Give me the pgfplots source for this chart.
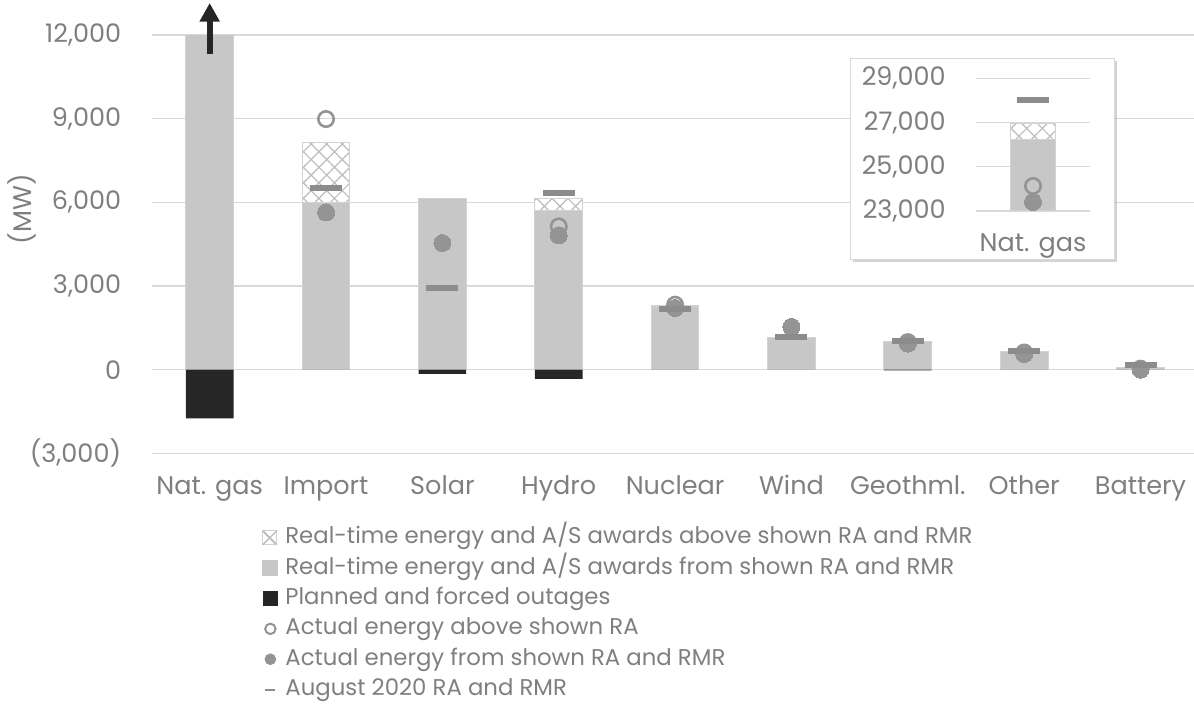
\documentclass[border=0pt]{standalone}
\usepackage{fontspec}
\setmainfont{Poppins}
\usepackage{pgfplots}
\usepackage{pgfplotstable}
\pgfplotsset{compat=1.18}
\usetikzlibrary{patterns.meta,arrows.meta,shadows}
\definecolor{txt}{HTML}{7F7F7F}
\definecolor{gridc}{HTML}{D9D9D9}
\definecolor{barc}{HTML}{C7C7C7}
\definecolor{bard}{HTML}{D2D2D2}
\definecolor{outc}{HTML}{262626}
\definecolor{mk}{HTML}{949494}
\definecolor{dashc}{HTML}{8C8C8C}
\definecolor{hatchc}{HTML}{BDBDBD}

\pgfplotstableread{
x solid total outage hollow filled ra
0 26244 26970 -1750 24130 23410 28020
1 5980 8161 0 8986 5638 6498
2 6154 6154 -150 nan 4541 2939
3 5710 6154 -330 5136 4814 6319
4 2260 2290 0 2330 2211 2186
5 1136 1136 0 nan 1530 1158
6 993 993 -30 985 932 1014
7 634 634 0 615 563 656
8 82 82 0 35 0 154
}\data

\newcommand{\fs}{\fontsize{12.8}{15}\selectfont}
\newcommand{\fl}{\fontsize{11.45}{14}\selectfont}
\pgfplotsset{
  common/.style={
    scale only axis,
    axis line style={draw=none},
    major tick length=0pt,
    tick style={draw=none},
    scaled y ticks=false,
    ymajorgrids,
    grid style={gridc, line width=0.6bp},
    /pgf/number format/assume math mode=true,
    tick label style={font=\fs, text=txt},
    yticklabel style={anchor=east, inner sep=0pt, xshift=-15bp},
    xticklabel style={anchor=base, inner sep=0pt, yshift=-20.5bp},
  },
  hatchbar/.style={ybar, bar width=0.41, bar shift=0pt, draw=bard, line width=0.5bp,
    preaction={fill=white},
    pattern={Lines[angle=45,distance=5.5bp,line width=0.6bp]}, pattern color=hatchc,
    postaction={pattern={Lines[angle=-45,distance=5.5bp,line width=0.6bp]}, pattern color=hatchc}},
  solidbar/.style={ybar, bar width=0.41, bar shift=0pt, fill=barc, draw=bard, line width=0.5bp},
  outbar/.style={ybar, bar width=0.41, bar shift=0pt, fill=outc, draw=none},
  hollowmk/.style={only marks, color=mk, mark=o, mark size=3.85bp, mark options={draw=mk, line width=1.3bp, fill=none}},
  filledmk/.style={only marks, color=mk, mark=*, mark size=4.25bp, mark options={draw=mk, fill=mk, line width=0pt}},
  dashmk/.style={only marks, color=dashc, mark=-, mark size=8bp, mark options={draw=dashc, line width=3bp}},
}

\begin{document}
\begin{tikzpicture}
\useasboundingbox (0,0) rectangle (597bp,-352bp);
\begin{axis}[common,
  at={(75.75bp,-17.5bp)}, anchor=north west,
  width=523.6bp, height=209.15bp,
  xmin=-0.5, xmax=8.5, ymin=-3000, ymax=12000,
  clip mode=individual,
  ytick={-3000,0,3000,6000,9000,12000},
  yticklabels={{(3,000)},0,{3,000},{6,000},{9,000},{12,000}},
  xtick={0,...,8},
  xticklabels={Nat. gas,Import,Solar,Hydro,Nuclear,Wind,Geothml.,Other,Battery},
  ylabel={(MW)},
  every axis y label/.style={at={(axis description cs:-0.1241,0.584)}, rotate=90, anchor=center, font=\fs, text=txt},
  legend style={at={(axis description cs:0.1055,-0.172)}, anchor=north west, draw=none, fill=none,
    inner sep=0pt, row sep=3.2bp, column sep=3.5bp, font=\fl, text=txt,
    nodes={inner ysep=0pt, inner xsep=0pt, text height=9bp, text depth=3bp}},
  legend cell align=left,
]
\addplot[hatchbar, legend image code/.code={
   \draw[bard, line width=0.4bp, fill=white] (0bp,-3.5bp) rectangle (7bp,3.5bp);
   \draw[hatchc, line width=0.4bp] (0bp,-3.5bp) -- (7bp,3.5bp) (0bp,3.5bp) -- (7bp,-3.5bp);}]
  table[x=x, y=total] {\data};
\addlegendentry{Real-time energy and A/S awards above shown RA and RMR}
\addplot[solidbar, legend image code/.code={\fill[barc] (0bp,-3.75bp) rectangle (7.5bp,3.75bp);}]
  table[x=x, y=solid] {\data};
\addlegendentry{Real-time energy and A/S awards from shown RA and RMR}
\addplot[outbar, legend image code/.code={\fill[outc] (0bp,-3.75bp) rectangle (7.5bp,3.75bp);}]
  table[x=x, y=outage] {\data};
\addlegendentry{Planned and forced outages}
\addplot[hollowmk, legend image code/.code={\draw[mk, line width=1bp] (3.75bp,0) circle (2.6bp);}]
  table[x=x, y=hollow] {\data};
\addlegendentry{Actual energy above shown RA}
\addplot[filledmk, legend image code/.code={\fill[mk] (3.75bp,0) circle (2.7bp);}]
  table[x=x, y=filled] {\data};
\addlegendentry{Actual energy from shown RA and RMR}
\addplot[dashmk, legend image code/.code={\draw[dashc, line width=1bp] (1bp,0) -- (6bp,0);}]
  table[x=x, y=ra] {\data};
\addlegendentry{August 2020 RA and RMR}
\draw[outc, line width=3bp, -{Triangle[width=9.5bp,length=9.3bp]}] (axis cs:0,11326) -- (axis cs:0,13150);
\end{axis}

\draw[gridc, line width=0.5bp, fill=white, drop shadow={shadow xshift=1.5bp, shadow yshift=-1.5bp, opacity=0.35}]
  (425bp,-29.15bp) rectangle (557bp,-129.65bp);

\begin{axis}[common,
  at={(488bp,-39.15bp)}, anchor=north west,
  width=57bp, height=66.35bp,
  xmin=-0.5, xmax=0.5, ymin=23000, ymax=29000,
  ytick={23000,25000,27000,29000},
  yticklabels={{23,000},{25,000},{27,000},{29,000}},
  xtick={0}, xticklabels={Nat. gas},
]
\addplot[hatchbar, bar width=0.40, skip coords between index={1}{9}] table[x=x, y=total] {\data};
\addplot[solidbar, bar width=0.40, skip coords between index={1}{9}] table[x=x, y=solid] {\data};
\addplot[hollowmk, skip coords between index={1}{9}] table[x=x, y=hollow] {\data};
\addplot[filledmk, skip coords between index={1}{9}] table[x=x, y=filled] {\data};
\addplot[dashmk, skip coords between index={1}{9}] table[x=x, y=ra] {\data};
\end{axis}
\end{tikzpicture}
\end{document}
